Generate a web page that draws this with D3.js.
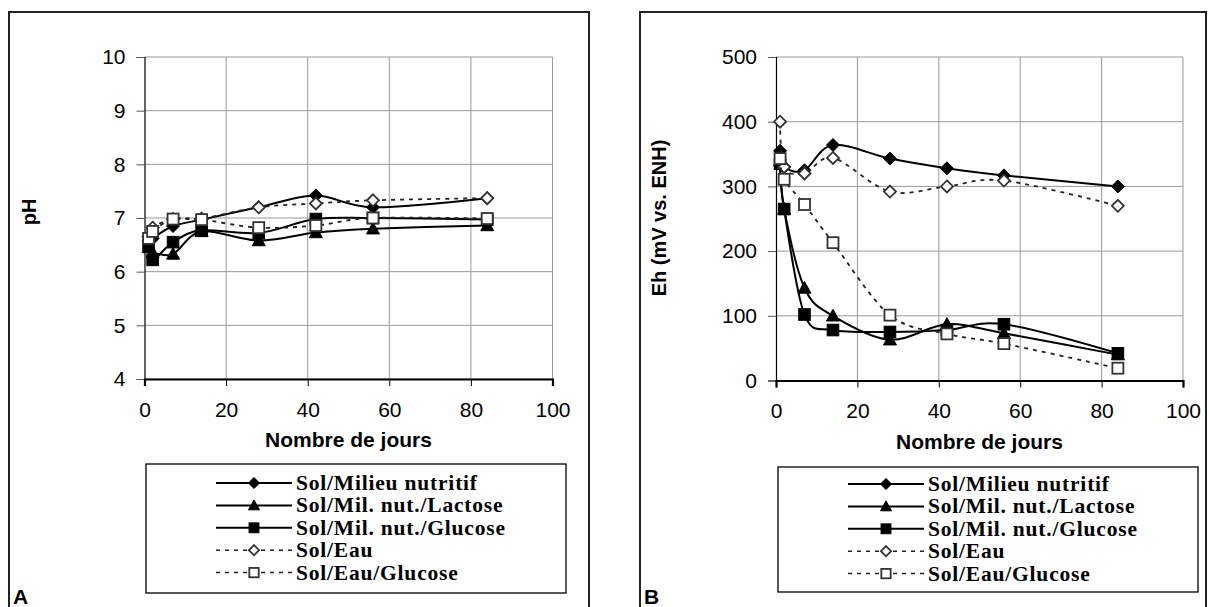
<!DOCTYPE html>
<html><head><meta charset="utf-8">
<script src="https://cdn.jsdelivr.net/npm/d3@7"></script>
<style>body{margin:0;background:#fff}svg{display:block}</style>
</head><body>
<svg id="c" width="1209" height="607"></svg>
<script>
const days = [1, 2, 7, 14, 28, 42, 56, 84];
const seriesNames = ["Sol/Milieu nutritif", "Sol/Mil. nut./Lactose", "Sol/Mil. nut./Glucose", "Sol/Eau", "Sol/Eau/Glucose"];
const phMilieu = [6.57, 6.62, 6.85, 6.97, 7.2, 7.42, 7.2, 7.37];
const phLactose = [6.45, 6.36, 6.33, 6.75, 6.58, 6.73, 6.8, 6.86];
const phGlucose = [6.5, 6.22, 6.55, 6.77, 6.72, 6.98, 7.0, 6.97];
const phEau = [6.65, 6.82, 6.98, 6.99, 7.2, 7.27, 7.33, 7.37];
const phEauGlucose = [6.62, 6.75, 6.98, 6.97, 6.82, 6.86, 7.0, 6.99];
const ehMilieu = [355, 330, 325, 364, 343, 328, 317, 300];
const ehLactose = [340, 265, 143, 100, 63, 87, 73, 40];
const ehGlucose = [335, 265, 102, 78, 75, 78, 87, 42];
const ehEau = [400, 330, 320, 344, 292, 300, 309, 270];
const ehEauGlucose = [343, 311, 272, 213, 101, 72, 57, 19];
const xTicks = [0, 20, 40, 60, 80, 100];
const phTicks = [4, 5, 6, 7, 8, 9, 10];
const ehTicks = [0, 100, 200, 300, 400, 500];

const svg = d3.select("#c");
const styles = [
  {marker: "diamond", fill: "#000", stroke: "#000", dash: null, line: "#000"},
  {marker: "triangle", fill: "#000", stroke: "#000", dash: null, line: "#000"},
  {marker: "square", fill: "#000", stroke: "#000", dash: null, line: "#000"},
  {marker: "diamond", fill: "#fff", stroke: "#333", dash: "4,5", line: "#222", hollow: true},
  {marker: "square", fill: "#fff", stroke: "#333", dash: "4,5", line: "#222", hollow: true}
];

function drawMarker(g, type, x, y, st, sc) {
  sc = sc || 1;
  let s;
  if (type === "diamond") {
    s = (st.hollow ? 6 : 6.5) * sc;
    g.append("path").attr("d", `M${x},${y-s}L${x+s},${y}L${x},${y+s}L${x-s},${y}Z`)
      .attr("fill", st.fill).attr("stroke", st.stroke).attr("stroke-width", st.hollow ? 1.8 : 1);
  } else if (type === "triangle") {
    s = 6.5 * sc;
    g.append("path").attr("d", `M${x},${y-s}L${x+s},${y+s*0.8}L${x-s},${y+s*0.8}Z`)
      .attr("fill", st.fill).attr("stroke", st.stroke);
  } else {
    s = (st.hollow ? 5.5 : 5.8) * sc;
    g.append("rect").attr("x", x-s).attr("y", y-s).attr("width", 2*s).attr("height", 2*s)
      .attr("fill", st.fill).attr("stroke", st.stroke).attr("stroke-width", st.hollow ? 1.8 : 1);
  }
}

function panel(o) {
  const g = svg.append("g");
  g.append("rect").attr("x", o.frame[0]).attr("y", o.frame[1]).attr("width", o.frame[2]).attr("height", 620)
    .attr("fill", "none").attr("stroke", "#222").attr("stroke-width", 2);
  const x = d3.scaleLinear().domain([0, 100]).range([o.left, o.right]);
  const y = d3.scaleLinear().domain(o.domain).range([o.bottom, o.top]);
  g.selectAll(".hg").data(o.ticks).enter().append("line")
    .attr("x1", o.left).attr("x2", o.right).attr("y1", d => y(d)).attr("y2", d => y(d))
    .attr("stroke", "#999").attr("stroke-width", 1);
  g.selectAll(".vg").data(xTicks.slice(1)).enter().append("line")
    .attr("x1", d => x(d)).attr("x2", d => x(d)).attr("y1", o.top).attr("y2", o.bottom)
    .attr("stroke", "#999").attr("stroke-width", 1);
  const ya = g.append("g").attr("transform", `translate(${o.left},0)`)
    .call(d3.axisLeft(y).tickValues(o.ticks).tickSize(8).tickPadding(11).tickFormat(d3.format("d")));
  ya.select(".domain").attr("stroke", "#000").attr("stroke-width", 1.2);
  ya.selectAll(".tick line").attr("stroke", "#555");
  ya.selectAll("text").attr("font-family", "Liberation Sans, Arial").attr("font-size", 21).attr("fill", "#000");
  const xa = g.append("g").attr("transform", `translate(0,${o.bottom})`)
    .call(d3.axisBottom(x).tickValues(xTicks).tickSize(7).tickPadding(16).tickFormat(d3.format("d")));
  xa.select(".domain").attr("stroke", "#000").attr("stroke-width", 2.2);
  xa.selectAll(".tick line").attr("stroke", "#000");
  xa.selectAll("text").attr("font-family", "Liberation Sans, Arial").attr("font-size", 21).attr("fill", "#000");
  g.append("text").attr("x", (o.left + o.right) / 2).attr("y", o.bottom + 68).attr("text-anchor", "middle")
    .attr("font-family", "Liberation Sans, Arial").attr("font-weight", "bold").attr("font-size", 21).text("Nombre de jours");
  g.append("text").attr("transform", `translate(${o.ylabX},${o.ylabY}) rotate(-90)`).attr("text-anchor", "middle")
    .attr("font-family", "Liberation Sans, Arial").attr("font-weight", "bold").attr("font-size", 20).text(o.ylabel);
  g.append("text").attr("x", o.frame[0] + 4).attr("y", 604)
    .attr("font-family", "Liberation Sans, Arial").attr("font-weight", "bold").attr("font-size", 21).text(o.letter);
  const line = d3.line().x((d, i) => x(days[i])).y(d => y(d)).curve(d3.curveCatmullRom.alpha(0));
  o.data.forEach((arr, k) => {
    const st = styles[k];
    g.append("path").attr("d", line(arr)).attr("fill", "none").attr("stroke", st.line)
      .attr("stroke-width", st.hollow ? 1.8 : 2).attr("stroke-dasharray", st.dash);
    arr.forEach((v, i) => drawMarker(g, st.marker, x(days[i]), y(v), st));
  });
  const L = o.legend;
  g.append("rect").attr("x", L.x).attr("y", L.y).attr("width", L.w).attr("height", L.h)
    .attr("fill", "#fff").attr("stroke", "#000").attr("stroke-width", 1.3);
  seriesNames.forEach((name, k) => {
    const st = styles[k];
    const yy = L.rowY + k * 22.4;
    g.append("line").attr("x1", L.lx1).attr("x2", L.lx2).attr("y1", yy).attr("y2", yy)
      .attr("stroke", st.line).attr("stroke-width", st.hollow ? 1.5 : 2).attr("stroke-dasharray", st.dash);
    drawMarker(g, st.marker, (L.lx1 + L.lx2) / 2, yy, st, 0.85);
    g.append("text").attr("x", L.lx2 + 4).attr("y", yy + 7)
      .attr("font-family", "Liberation Serif, Times New Roman").attr("font-weight", "bold").attr("font-size", 21.5)
      .attr("letter-spacing", 0.8)
      .text(name);
  });
}

panel({
  frame: [9, 12, 580], left: 144.5, right: 552.5, top: 57, bottom: 379,
  domain: [4, 10], ticks: phTicks, ylabel: "pH", ylabX: 36, ylabY: 212, letter: "A",
  data: [phMilieu, phLactose, phGlucose, phEau, phEauGlucose],
  legend: {x: 146, y: 464, w: 420, h: 129, lx1: 216, lx2: 292, rowY: 483}
});
panel({
  frame: [640, 12, 566], left: 776, right: 1183, top: 57, bottom: 380.5,
  domain: [0, 500], ticks: ehTicks, ylabel: "Eh (mV vs. ENH)", ylabX: 666, ylabY: 218, letter: "B",
  data: [ehMilieu, ehLactose, ehGlucose, ehEau, ehEauGlucose],
  legend: {x: 778, y: 467, w: 420, h: 125, lx1: 848, lx2: 924, rowY: 484}
});
</script>
</body></html>
